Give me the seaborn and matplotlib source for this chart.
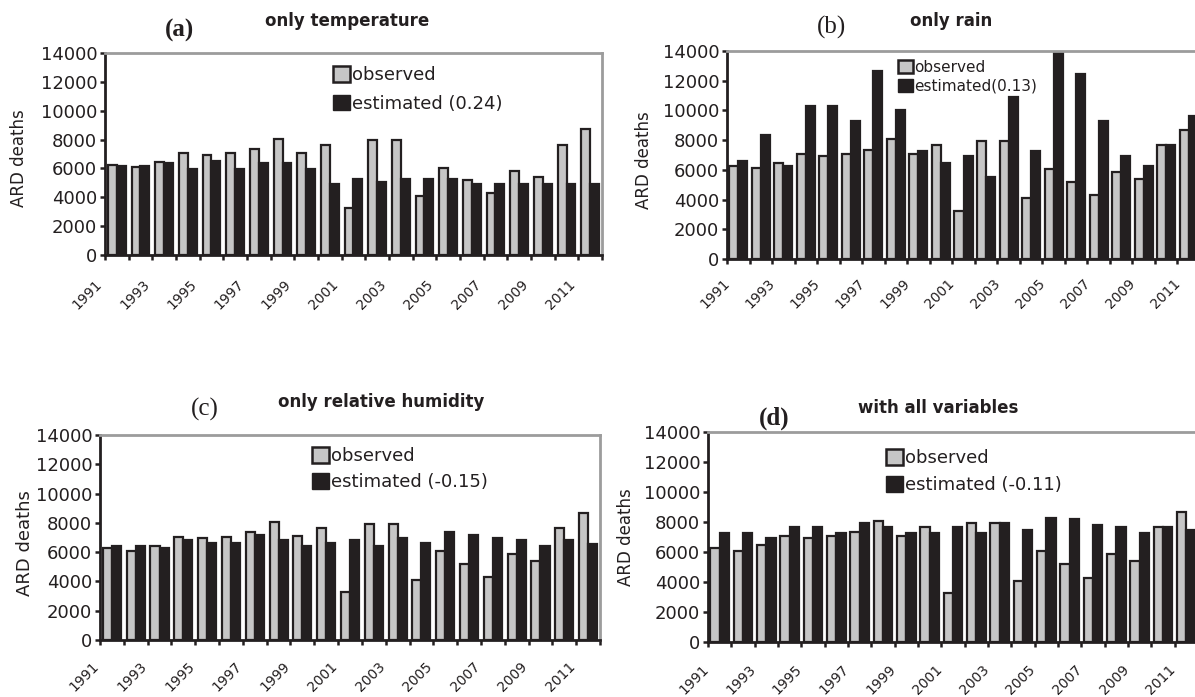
import numpy as np
import pandas as pd
import matplotlib
matplotlib.use("Agg")
import matplotlib.pyplot as plt
import matplotlib.transforms as mtransforms
from matplotlib.patches import Patch
import seaborn as sns

# ---- data -----------------------------------------------------------------
years = list(range(1991, 2012))
observed = [6250, 6100, 6450, 7050, 6950, 7050, 7350, 8050, 7100, 7650, 3250,
            7950, 7950, 4100, 6050, 5200, 4300, 5850, 5400, 7650, 8700]
est_temperature = [6150, 6150, 6350, 5950, 6500, 5950, 6350, 6350, 5950, 4900, 5250,
                   5050, 5250, 5250, 5250, 4900, 4900, 4900, 4900, 4900, 4900]
est_rain = [6600, 8350, 6250, 10300, 10300, 9300, 12650, 10000, 7300, 6450, 6950,
            5550, 10900, 7300, 14000, 12450, 9300, 6950, 6250, 7650, 9650]
est_humidity = [6400, 6400, 6300, 6800, 6650, 6650, 7150, 6800, 6450, 6650, 6800,
                6450, 7000, 6650, 7350, 7150, 7000, 6800, 6400, 6800, 6550]
est_all = [7300, 7300, 6950, 7650, 7650, 7300, 7950, 7650, 7300, 7300, 7650,
           7300, 7950, 7500, 8300, 8200, 7800, 7650, 7300, 7650, 7450]

panel_letters = ["(a)", "(b)", "(c)", "(d)"]
panel_titles = ["only temperature", "only rain", "only relative humidity", "with all variables"]
estimate_labels = ["estimated (0.24)", "estimated(0.13)", "estimated (-0.15)", "estimated (-0.11)"]
observed_label = "observed"
y_label = "ARD deaths"
y_ticks = list(range(0, 14001, 2000))

# ---- style ----------------------------------------------------------------
sns.set_style("white")
plt.rcParams["font.family"] = ["DejaVu Sans"]

DARK = "#231f20"
LIGHT = "#c6c6c6"
FRAME = "#9c9c9c"

W, H = 1195, 697
fig = plt.figure(figsize=(W / 100, H / 100), dpi=100)


def px_rect(left, top, right, bottom):
    return [left / W, 1 - bottom / H, (right - left) / W, (bottom - top) / H]


# layout of each panel in pixels
panels = [
    dict(est=est_temperature, box=(105, 53, 602, 255), width=0.75,
         letter_xy=(180, 30), letter_bold=True, title_xy=(347, 21),
         leg_xy=(333, 66), leg_fs=13, leg_space=0.6,
         ylab_center=(18, 158), ylab_fs=12, xlab_off=(-17, 27)),
    dict(est=est_rain, box=(727, 51, 1200, 259), width=0.8,
         letter_xy=(832, 27), letter_bold=False, title_xy=(951, 21),
         leg_xy=(898, 60), leg_fs=11, leg_space=0.22,
         ylab_center=(643, 160), ylab_fs=12, xlab_off=(-11, 22)),
    dict(est=est_humidity, box=(100, 435, 600, 640), width=0.76,
         letter_xy=(205, 409), letter_bold=False, title_xy=(381, 402),
         leg_xy=(312, 447), leg_fs=13, leg_space=0.44,
         ylab_center=(24, 543), ylab_fs=13, xlab_off=(-15, 24)),
    dict(est=est_all, box=(708, 432, 1198, 642), width=0.8,
         letter_xy=(774, 418), letter_bold=True, title_xy=(938, 408),
         leg_xy=(886, 449), leg_fs=13, leg_space=0.5,
         ylab_center=(625, 537), ylab_fs=12, xlab_off=(-13, 25)),
]

n = len(years)
year_str = [str(y) for y in years]

for i, p in enumerate(panels):
    left, top, right, bottom = p["box"]
    ax = fig.add_axes(px_rect(left, top, right, bottom))

    est_label = estimate_labels[i]
    df = pd.DataFrame({
        "year": year_str * 2,
        "deaths": observed + p["est"],
        "series": [observed_label] * n + [est_label] * n,
    })
    sns.barplot(data=df, x="year", y="deaths", hue="series",
                hue_order=[observed_label, est_label], order=year_str,
                palette=[LIGHT, DARK], saturation=1, width=p["width"], gap=0,
                edgecolor=DARK, linewidth=1.6, errorbar=None, legend=False, ax=ax)

    ax.set_xlim(-0.5, n - 0.5)
    ax.set_ylim(0, 14000)
    ax.set_yticks(y_ticks)
    ax.set_xlabel("")

    # spines: dark axes lines, grey frame on top/right
    for s in ("left", "bottom"):
        ax.spines[s].set_color(DARK)
        ax.spines[s].set_linewidth(2)
    for s in ("top", "right"):
        ax.spines[s].set_color(FRAME)
        ax.spines[s].set_linewidth(2)

    # y axis
    ax.tick_params(axis="y", which="major", left=True, direction="out", length=3.6,
                   width=1.8, color=DARK, pad=2, labelsize=13, labelcolor=DARK)

    # x axis: tick marks between categories, labels on every other year
    ax.set_xticks(range(n))
    ax.set_xticklabels([str(y) if y % 2 == 1 else "" for y in years])
    ax.set_xticks(np.arange(-0.5, n), minor=True)
    ax.tick_params(axis="x", which="major", bottom=True, length=0, pad=0,
                   labelsize=10, labelcolor=DARK)
    ax.tick_params(axis="x", which="minor", bottom=True, direction="out",
                   length=3.6, width=1.8, color=DARK)
    dx, dy = p["xlab_off"]
    offset = mtransforms.ScaledTranslation(dx / 100, -dy / 100, fig.dpi_scale_trans)
    for lab in ax.get_xticklabels():
        lab.set_rotation(45)
        lab.set_ha("right")
        lab.set_va("center")
        lab.set_rotation_mode("anchor")
        lab.set_transform(lab.get_transform() + offset)

    # y label
    ax.set_ylabel(y_label, fontsize=p["ylab_fs"], color=DARK)
    cx, cy = p["ylab_center"]
    ax.yaxis.set_label_coords((cx + 10 - left) / (right - left),
                              (bottom - cy) / (bottom - top))

    # legend
    handles = [
        Patch(facecolor=LIGHT, edgecolor=DARK, linewidth=1.8, label=observed_label),
        Patch(facecolor=DARK, edgecolor=DARK, linewidth=1.0, label=est_label),
    ]
    lx, ly = p["leg_xy"]
    leg = ax.legend(handles=handles, loc="upper left",
                    bbox_to_anchor=(lx / W, 1 - ly / H), bbox_transform=fig.transFigure,
                    frameon=False, fontsize=p["leg_fs"], handlelength=0.95,
                    handleheight=0.95, handletextpad=0.12, labelspacing=p["leg_space"],
                    borderpad=0, borderaxespad=0)
    for t in leg.get_texts():
        t.set_color(DARK)

    # panel letter and title
    tx, ty = p["letter_xy"]
    fig.text(tx / W, 1 - ty / H, panel_letters[i], ha="center", va="center",
             family="Liberation Serif", fontsize=18,
             weight="bold" if p["letter_bold"] else "normal", color=DARK)
    hx, hy = p["title_xy"]
    fig.text(hx / W, 1 - hy / H, panel_titles[i], ha="center", va="center",
             fontsize=12, weight="bold", color=DARK)

fig.savefig("out.png", dpi=100)
